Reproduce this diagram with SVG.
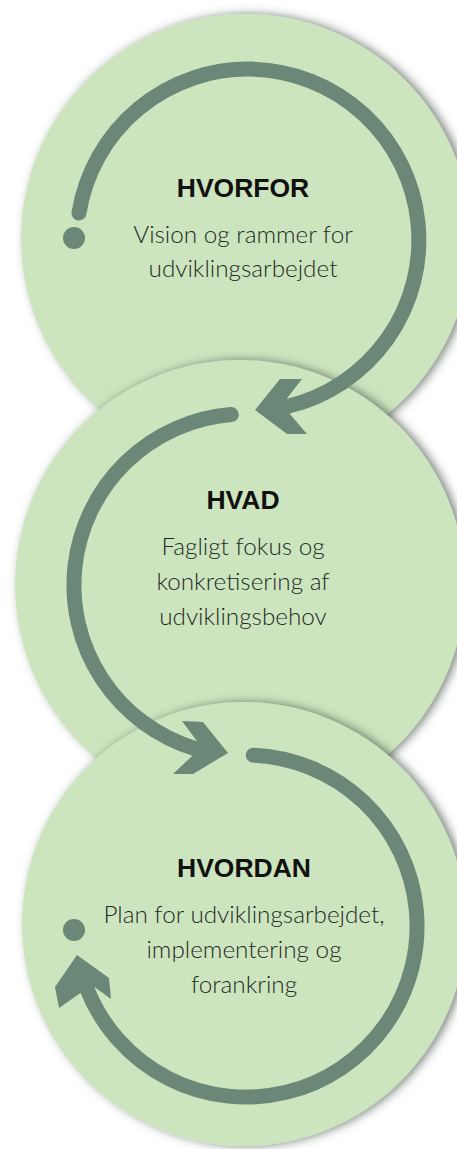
<svg xmlns="http://www.w3.org/2000/svg" width="457" height="1149" viewBox="0 0 457 1149">
  <defs>
    <filter id="shadow" x="-20%" y="-20%" width="140%" height="140%">
      <feDropShadow dx="4" dy="0" stdDeviation="5" flood-color="#3a4a3f" flood-opacity="0.65"/>
    </filter>
    <style>
      .disc { fill: #cde5bf; filter: url(#shadow); }
      .arc { fill: none; stroke: #6a8778; stroke-width: 15; }
      .head, .dot { fill: #6a8778; }
      .title { font-family: "Liberation Sans", Arial, sans-serif; font-weight: bold; font-size: 26.5px; fill: #111111; text-anchor: middle; }
      .body { font-family: Lato, "Open Sans", sans-serif; font-weight: 300; font-size: 24.3px; fill: #1f2b24; text-anchor: middle; }
    </style>
  </defs>
  <rect width="457" height="1149" fill="#ffffff"/>

  <g id="node-hvorfor">
    <circle class="disc" cx="246" cy="239" r="225"/>
  </g>
  <g id="node-hvad">
    <circle class="disc" cx="240" cy="585" r="225"/>
  </g>
  <g id="node-hvordan">
    <circle class="disc" cx="244" cy="924" r="222"/>
  </g>

  <g id="labels">
    <text class="title" x="243" y="197">HVORFOR</text>
    <text class="body" x="243" y="243">Vision og rammer for</text>
    <text class="body" x="243" y="277">udviklingsarbejdet</text>

    <text class="title" x="243" y="509">HVAD</text>
    <text class="body" x="243" y="555">Fagligt fokus og</text>
    <text class="body" x="243" y="590">konkretisering af</text>
    <text class="body" x="243" y="625">udviklingsbehov</text>

    <text class="title" x="244" y="877">HVORDAN</text>
    <text class="body" x="244" y="923">Plan for udviklingsarbejdet,</text>
    <text class="body" x="244" y="958">implementering og</text>
    <text class="body" x="244" y="993">forankring</text>
  </g>

  <g id="connectors">
    <!-- arrow 1: HVORFOR -> HVAD -->
    <circle class="dot" cx="74" cy="238" r="11"/>
    <path class="arc" stroke-linecap="round" d="M 79 213 A 171 171 0 1 1 287.9 406.3"/>
    <path class="arc" d="M 287.9 406.3 A 171 171 0 0 1 277.7 408.4"/>
    <polygon class="head" points="255,410 280,379 302,379 286.5,399 289.5,413.5 307,434 287,434"/>

    <!-- arrow 2: HVAD -> HVORDAN -->
    <path class="arc" stroke-linecap="round" d="M 231.3 414.6 A 171 171 0 0 0 194.7 748.5"/>
    <path class="arc" d="M 194.7 748.5 A 171 171 0 0 0 203.6 750.9"/>
    <polygon class="head" points="228,753 203,722 182,721 197,741.3 192.4,755.7 173,774 193,774"/>

    <!-- arrow 3: HVORDAN -> back -->
    <circle class="dot" cx="74" cy="930" r="11"/>
    <path class="arc" stroke-linecap="round" d="M 253.2 755.2 A 171 171 0 1 1 87.5 990.1"/>
    <path class="arc" d="M 87.5 990.1 A 171 171 0 0 1 84.3 981.7"/>
    <polygon class="head" points="77,955 109,978 111,999 94.5,987 80.5,993 59,1008 55,987"/>
  </g>
</svg>
